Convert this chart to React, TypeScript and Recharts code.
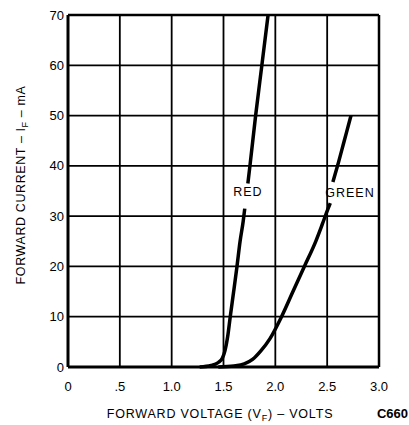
import { LineChart, Line, XAxis, YAxis, CartesianGrid, ReferenceLine, ReferenceDot } from 'recharts';

// forward voltage (V) vs forward current (mA); null marks the gap left for the curve label
const redCurve = [
  { v: 1.27, i: 0 }, { v: 1.38, i: 0.3 }, { v: 1.45, i: 0.9 }, { v: 1.49, i: 1.8 },
  { v: 1.515, i: 3.3 }, { v: 1.54, i: 6 }, { v: 1.565, i: 10 }, { v: 1.598, i: 15 },
  { v: 1.63, i: 20 }, { v: 1.66, i: 25 }, { v: 1.69, i: 29 }, { v: 1.705, i: 31.5 },
  { v: 1.72, i: null }, { v: 1.735, i: 36.5 }, { v: 1.755, i: 40 }, { v: 1.81, i: 50 },
  { v: 1.87, i: 60 }, { v: 1.93, i: 70 },
];

const greenCurve = [
  { v: 1.45, i: 0 }, { v: 1.6, i: 0.2 }, { v: 1.7, i: 0.6 }, { v: 1.78, i: 1.5 },
  { v: 1.86, i: 3.2 }, { v: 1.95, i: 5.7 }, { v: 2.06, i: 10 }, { v: 2.17, i: 15 },
  { v: 2.28, i: 20 }, { v: 2.39, i: 25 }, { v: 2.455, i: 28.5 }, { v: 2.505, i: 31.3 },
  { v: 2.53, i: 32.6 }, { v: 2.545, i: null }, { v: 2.555, i: 36.8 }, { v: 2.6, i: 40 },
  { v: 2.665, i: 45 }, { v: 2.73, i: 50 },
];

const xTicks = [0, 0.5, 1.0, 1.5, 2.0, 2.5, 3.0];
const yTicks = [0, 10, 20, 30, 40, 50, 60, 70];

const curveLabels = [
  { text: 'RED', v: 1.735, i: 34.8 },
  { text: 'GREEN', v: 2.72, i: 34.6 },
];

const font = '"Liberation Sans", Arial, Helvetica, sans-serif';

const fmtX = (v: number) => (v === 0 ? '0' : v === 0.5 ? '.5' : v.toFixed(1));

export default function App() {
  return (
    <div style={{ position: 'absolute', left: 0, top: 0, width: 409, height: 425, background: '#fff', fontFamily: font }}>
      <LineChart width={409} height={425} margin={{ top: 15, right: 30, bottom: 0, left: 0 }}>
        <CartesianGrid stroke="#000" strokeWidth={1.8} horizontalValues={yTicks} verticalValues={xTicks} />
        <XAxis
          type="number"
          dataKey="v"
          domain={[0, 3]}
          ticks={xTicks}
          tickFormatter={fmtX}
          height={58}
          tickSize={0}
          tickMargin={15}
          axisLine={{ stroke: '#000', strokeWidth: 3 }}
          tick={{ fill: '#000', fontSize: 13, fontFamily: font }}
          allowDuplicatedCategory={false}
        />
        <YAxis
          type="number"
          dataKey="i"
          domain={[0, 70]}
          ticks={yTicks}
          width={68}
          tickSize={0}
          tickMargin={4}
          axisLine={{ stroke: '#000', strokeWidth: 3 }}
          tick={{ fill: '#000', fontSize: 13, fontFamily: font }}
        />
        <ReferenceLine x={3} stroke="#000" strokeWidth={2.5} />
        <ReferenceLine y={70} stroke="#000" strokeWidth={2.5} />
        <Line data={redCurve} dataKey="i" type="monotone" stroke="#000" strokeWidth={3.5} dot={false} isAnimationActive={false} />
        <Line data={greenCurve} dataKey="i" type="monotone" stroke="#000" strokeWidth={3.5} dot={false} isAnimationActive={false} />
        {curveLabels.map((c) => (
          <ReferenceDot
            key={c.text}
            x={c.v}
            y={c.i}
            r={0}
            fill="none"
            stroke="none"
            label={{ value: c.text, position: 'center', fill: '#000', fontSize: 12.5, fontFamily: font, letterSpacing: 1 }}
          />
        ))}
      </LineChart>
      <svg width={409} height={425} style={{ position: 'absolute', left: 0, top: 0, pointerEvents: 'none' }}>
        <text
          transform="translate(25,185) rotate(-90)"
          textAnchor="middle"
          fontSize={12.5}
          fontFamily={font}
          letterSpacing={0.6}
          fill="#000"
        >
          FORWARD CURRENT – I<tspan fontSize={9} dy={3}>F</tspan><tspan dy={-3}> – mA</tspan>
        </text>
        <text x={220} y={418} textAnchor="middle" fontSize={12.5} fontFamily={font} letterSpacing={0.8} fill="#000">
          FORWARD VOLTAGE (V<tspan fontSize={9} dy={3}>F</tspan><tspan dy={-3}>) – VOLTS</tspan>
        </text>
        <text x={408} y={418} textAnchor="end" fontSize={13} fontWeight="bold" fontFamily={font} fill="#000">
          C660
        </text>
      </svg>
    </div>
  );
}
